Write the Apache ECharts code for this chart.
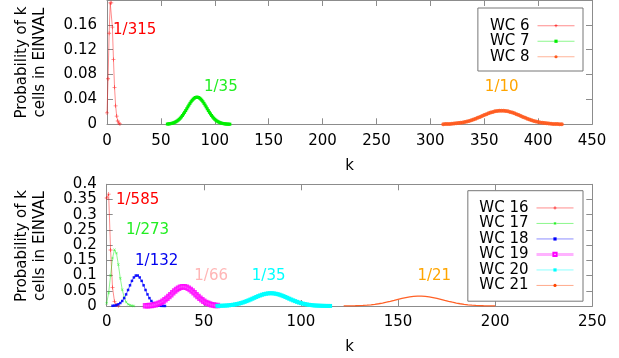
<!DOCTYPE html>
<html><head><meta charset="utf-8">
<script src="https://cdn.jsdelivr.net/npm/echarts@6/dist/echarts.min.js"></script>
<style>html,body{margin:0;padding:0;background:#fff}#c{width:619px;height:358px}</style>
</head><body><div id="c"></div><script>
const FONT = 'DejaVu Sans';
// ---- data ----
const topNames = ['WC 6', 'WC 7', 'WC 8'];
const botNames = ['WC 16', 'WC 17', 'WC 18', 'WC 19', 'WC 20', 'WC 21'];
const topRatios = ['1/315', '1/35', '1/10'];
const botRatios = ['1/585', '1/273', '1/132', '1/66', '1/35', '1/21'];
const topKStart = [0, 56, 312];
const topKStep = [1, 1, 2];
const botKStart = [0, 0, 3, 20, 57, 122];
const botKStep = [1, 1, 1, 1, 1, 2];
const topXTicks = [0, 450, 50];
const topYTicks = [0, 0.2, 0.04];
const botXTicks = [0, 250, 50];
const botYTicks = [0, 0.4, 0.05];

const wc6 = [0.0183,0.0733,0.1465,0.1954,0.1954,0.1563,0.1042,0.0595,0.0298,0.0132,0.0053,0.0019,0.0006];
const wc7 = [0.0004,0.0006,0.0008,0.0011,0.0015,0.0019,0.0025,0.0033,0.0042,0.0053,0.0066,0.0081,0.0099,0.0119,0.0142,0.0167,0.0193,0.0221,0.0250,0.0280,0.0309,0.0337,0.0363,0.0386,0.0405,0.0420,0.0431,0.0436,0.0436,0.0431,0.0420,0.0405,0.0386,0.0363,0.0337,0.0309,0.0280,0.0250,0.0221,0.0193,0.0167,0.0142,0.0119,0.0099,0.0081,0.0066,0.0053,0.0042,0.0033,0.0025,0.0019,0.0015,0.0011,0.0008,0.0006,0.0004,0.0003,0.0002,0.0002];
const wc8 = [0.0002,0.0003,0.0005,0.0006,0.0008,0.0011,0.0015,0.0019,0.0024,0.0030,0.0037,0.0045,0.0055,0.0066,0.0078,0.0090,0.0104,0.0119,0.0133,0.0148,0.0163,0.0176,0.0189,0.0199,0.0208,0.0215,0.0219,0.0220,0.0219,0.0215,0.0208,0.0199,0.0189,0.0176,0.0163,0.0148,0.0133,0.0119,0.0104,0.0090,0.0078,0.0066,0.0055,0.0045,0.0037,0.0030,0.0024,0.0019,0.0015,0.0011,0.0008,0.0006,0.0005,0.0003,0.0002,0.0002];
const wc16 = [0.355,0.368,0.184,0.061,0.015,0.003,0.0005];
const wc17 = [0.0091,0.0427,0.1005,0.1574,0.1849,0.1738,0.1362,0.0914,0.0537,0.0281,0.0132,0.0056,0.0022,0.0008,0.0003];
const wc18 = [0.0007,0.0014,0.0029,0.0055,0.0098,0.0165,0.0259,0.0381,0.0526,0.0680,0.0826,0.0939,0.1002,0.1002,0.0939,0.0826,0.0680,0.0526,0.0381,0.0259,0.0165,0.0098,0.0055,0.0029,0.0014,0.0006,0.0003,0.0001];
const wc19 = [0.0005,0.0008,0.0013,0.0020,0.0030,0.0044,0.0063,0.0087,0.0118,0.0156,0.0202,0.0254,0.0311,0.0372,0.0433,0.0492,0.0544,0.0587,0.0618,0.0634,0.0634,0.0618,0.0587,0.0544,0.0492,0.0433,0.0372,0.0311,0.0254,0.0202,0.0156,0.0118,0.0087,0.0063,0.0044,0.0030,0.0020,0.0013];
const wc20 = [0.0004,0.0006,0.0008,0.0011,0.0014,0.0018,0.0024,0.0032,0.0040,0.0051,0.0063,0.0078,0.0095,0.0114,0.0136,0.0160,0.0185,0.0212,0.0240,0.0269,0.0297,0.0324,0.0348,0.0371,0.0389,0.0403,0.0414,0.0419,0.0419,0.0414,0.0403,0.0389,0.0371,0.0348,0.0324,0.0297,0.0269,0.0240,0.0212,0.0185,0.0160,0.0136,0.0114,0.0095,0.0078,0.0063,0.0051,0.0040,0.0032,0.0024,0.0018,0.0014,0.0011,0.0008,0.0006,0.0004,0.0003,0.0002,0.0002];
const wc21 = [0.0002,0.0003,0.0005,0.0008,0.0013,0.0019,0.0028,0.0040,0.0055,0.0074,0.0097,0.0124,0.0154,0.0185,0.0218,0.0249,0.0277,0.0301,0.0317,0.0326,0.0326,0.0317,0.0301,0.0277,0.0249,0.0218,0.0185,0.0154,0.0124,0.0097,0.0074,0.0055,0.0040,0.0028,0.0019,0.0013,0.0008,0.0005,0.0003,0.0002];
const topValues = [wc6, wc7, wc8];
const botValues = [wc16, wc17, wc18, wc19, wc20, wc21];
// annotation anchors (data coords, left-middle of the text)
const topLabelK = [5.6, 90, 350.6];
const topLabelP = [0.151, 0.0596, 0.0596];
const botLabelK = [4.8, 9.9, 14.6, 45.1, 74.7, 160];
const botLabelP = [0.349, 0.25, 0.149, 0.0987, 0.0987, 0.0987];

// ---- styles ----
const PLUS = 'path://M4,0H6V4H10V6H6V10H4V6H0V4H4Z';
const topStyle = [
  {color: '#ff0000', lab: '#ff0000', sym: PLUS, show: true, size: 4, rot: 0, lw: 1, lo: 0.45, so: 0.55, llw: 1},
  {color: '#00ee00', lab: '#22ee22', sym: 'rect', show: true, size: 3, rot: 0, lw: 1.5, lo: 0.6, so: 1, llw: 1},
  {color: '#ff5a1e', lab: '#ffa500', sym: 'circle', show: true, size: 4, rot: 0, lw: 1.5, lo: 0.6, so: 0.9, llw: 1}
];
const botStyle = [
  {color: '#ff0000', lab: '#ff0000', sym: PLUS, show: true, size: 4, rot: 0, lw: 1, lo: 0.45, so: 0.55, llw: 1},
  {color: '#00ee00', lab: '#22ee22', sym: PLUS, show: true, size: 3.5, rot: 45, lw: 1, lo: 0.45, so: 0.45, llw: 1},
  {color: '#0000ff', lab: '#0000ee', sym: 'rect', show: true, size: 2.5, rot: 0, lw: 1, lo: 0.6, so: 0.9, llw: 1},
  {color: '#ff00ff', lab: '#ffb6b6', sym: 'emptyRect', show: true, size: 3.5, rot: 0, lw: 2, lo: 0.4, so: 0.8, llw: 3},
  {color: '#00ffff', lab: '#00ffff', sym: 'rect', show: true, size: 4, rot: 0, lw: 2, lo: 0.6, so: 1, llw: 1},
  {color: '#ff4500', lab: '#ffa500', sym: 'circle', show: false, size: 1, rot: 0, lw: 1.3, lo: 0.85, so: 1, llw: 1}
];

const AX = '#8c8c8c';
function xAx(gi, pos, t, labels) {
  return {
    gridIndex: gi, type: 'value', position: pos, min: t[0], max: t[1], interval: t[2],
    name: labels ? 'k' : '', nameLocation: 'middle', nameGap: 34,
    nameTextStyle: {fontFamily: FONT, fontSize: 15, color: '#000'},
    axisLine: {show: true, onZero: false, lineStyle: {color: AX, width: 1}},
    axisTick: {show: true, inside: true, length: 6, lineStyle: {color: AX}},
    axisLabel: {show: labels, margin: 9, fontFamily: FONT, fontSize: 15, color: '#000'},
    splitLine: {show: false}
  };
}
function yAx(gi, pos, t, labels, hideMax) {
  return {
    gridIndex: gi, type: 'value', position: pos, min: t[0], max: t[1], interval: t[2],
    axisLine: {show: true, onZero: false, lineStyle: {color: AX, width: 1}},
    axisTick: {show: true, inside: true, length: 6, lineStyle: {color: AX}},
    axisLabel: {show: labels, margin: 10, fontFamily: FONT, fontSize: 15, color: '#000',
      showMaxLabel: !hideMax, formatter: v => String(+v.toFixed(2))},
    splitLine: {show: false}
  };
}
function mk(name, start, step, vals, axi, st, labText, labK, labP) {
  const data = vals.map((v, i) => [start + i * step, v]);
  return {
    name: name, type: 'line', xAxisIndex: axi, yAxisIndex: axi, data: data,
    symbol: st.sym, symbolSize: st.size, symbolRotate: st.rot, showSymbol: st.show,
    animation: false, silent: true,
    lineStyle: {color: st.color, width: st.lw, opacity: st.lo},
    itemStyle: {color: st.color, borderColor: st.color, opacity: st.so, borderWidth: st.sym === 'emptyRect' ? 1 : 0},
    color: st.color,
    markPoint: {
      symbol: 'circle', symbolSize: 0, silent: true, animation: false,
      data: [{coord: [labK, labP]}],
      label: {show: true, position: 'inside', align: 'left', verticalAlign: 'middle',
        formatter: labText, color: st.lab, fontFamily: FONT, fontSize: 15}
    }
  };
}

const series = [];
topNames.forEach((n, i) => series.push(mk(n, topKStart[i], topKStep[i], topValues[i], 0, topStyle[i], topRatios[i], topLabelK[i], topLabelP[i])));
botNames.forEach((n, i) => series.push(mk(n, botKStart[i], botKStep[i], botValues[i], 2, botStyle[i], botRatios[i], botLabelK[i], botLabelP[i])));

function legendItems(names, styles) {
  return names.map((n, i) => ({
    name: n,
    lineStyle: {width: styles[i].llw, opacity: styles[i].llw > 1 ? 0.3 : 0.45},
    itemStyle: {opacity: 1}
  }));
}

const legendBase = {
  orient: 'vertical', align: 'right', right: 36, itemWidth: 37, itemHeight: 4, itemGap: 0,
  borderColor: '#777', borderWidth: 1, borderRadius: 0, backgroundColor: '#fff',
  textStyle: {fontFamily: FONT, fontSize: 15, color: '#000', lineHeight: 15.5, padding: [0, 3, 0, 0]},
  selectedMode: false
};

const option = {
  animation: false,
  backgroundColor: '#fff',
  grid: [
    {left: 107, right: 27, top: -1, height: 125.3, show: false},
    {left: 106.7, right: 26.7, top: 184.3, height: 121.7, show: false}
  ],
  xAxis: [xAx(0, 'bottom', topXTicks, true), xAx(0, 'top', topXTicks, false),
          xAx(1, 'bottom', botXTicks, true), xAx(1, 'top', botXTicks, false)],
  yAxis: [yAx(0, 'left', topYTicks, true, true), yAx(0, 'right', topYTicks, false),
          yAx(1, 'left', botYTicks, true, false), yAx(1, 'right', botYTicks, false)],
  legend: [
    Object.assign({}, legendBase, {data: legendItems(topNames, topStyle), top: 8, padding: [10, 8, 6.5, 12]}),
    Object.assign({}, legendBase, {data: legendItems(botNames, botStyle), top: 190.7, padding: [9.5, 8, 8, 11.5]})
  ],
  graphic: [
    {type: 'text', x: 31, y: 62.5, rotation: Math.PI / 2, silent: true,
     style: {text: 'Probability of k\ncells in EINVAL', font: '15px "DejaVu Sans"', fill: '#000',
             align: 'center', verticalAlign: 'middle', lineHeight: 18}},
    {type: 'text', x: 31, y: 246, rotation: Math.PI / 2, silent: true,
     style: {text: 'Probability of k\ncells in EINVAL', font: '15px "DejaVu Sans"', fill: '#000',
             align: 'center', verticalAlign: 'middle', lineHeight: 18}}
  ],
  series: series
};
const chart = echarts.init(document.getElementById('c'), null, {renderer: 'canvas'});
chart.setOption(option);
</script></body></html>
